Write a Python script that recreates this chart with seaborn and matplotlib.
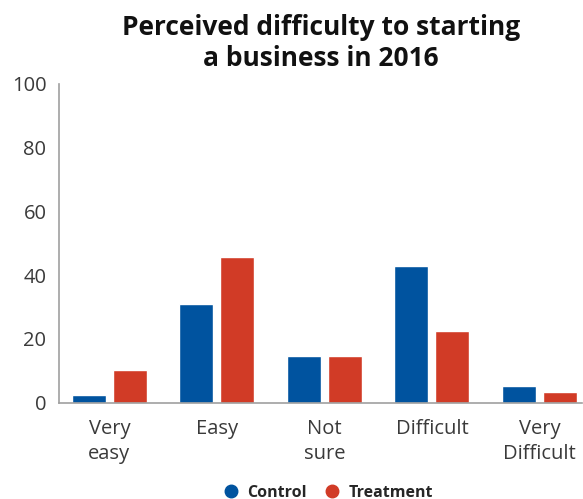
import matplotlib
matplotlib.use("Agg")
import matplotlib.pyplot as plt
import seaborn as sns
import pandas as pd
from matplotlib.lines import Line2D

categories = ["Very\neasy", "Easy", "Not\nsure", "Difficult", "Very\nDifficult"]
groups = ["Control", "Treatment"]
control = [2.4, 31.1, 14.7, 42.8, 5.3]
treatment = [10.3, 45.6, 14.7, 22.6, 3.4]
colors = {"Control": "#00539F", "Treatment": "#D13B26"}

df = pd.DataFrame({
    "category": categories * 2,
    "group": ["Control"] * len(categories) + ["Treatment"] * len(categories),
    "value": control + treatment,
})

sns.set_style("white")
plt.rcParams['font.family'] = ['Open Sans', 'DejaVu Sans']

fig = plt.figure(figsize=(5.83, 4.99), dpi=100)
ax = fig.add_axes([0.101, 0.193, 0.897, 0.639])

sns.barplot(data=df, x="category", y="value", hue="group", order=categories,
            hue_order=groups, palette=colors, width=0.763, gap=0.17,
            saturation=1, ax=ax, legend=False)

ax.set_ylim(0, 100)
ax.set_xlim(-0.47, 4.395)
ax.set_yticks([0, 20, 40, 60, 80, 100])
ax.set_xlabel("")
ax.set_ylabel("")
for s in ["top", "right"]:
    ax.spines[s].set_visible(False)
for s in ["left", "bottom"]:
    ax.spines[s].set_color("#a0a0a0")
    ax.spines[s].set_linewidth(1.2)
ax.tick_params(axis="y", length=0, labelsize=14.5, labelcolor="#3a3a3a", pad=9)
ax.tick_params(axis="x", length=0, labelsize=14.5, labelcolor="#3a3a3a", pad=12)
for t in ax.get_xticklabels():
    t.set_linespacing(1.3)

fig.text(0.551, 0.914, "Perceived difficulty to starting\na business in 2016",
         ha="center", va="center", fontsize=19, fontweight="bold",
         color="#111111", linespacing=1.2)

handles = [Line2D([0], [0], marker="o", linestyle="", markersize=9,
                  markerfacecolor=colors[g], markeredgecolor=colors[g]) for g in groups]
fig.legend(handles, groups, loc="center", bbox_to_anchor=(0.556, 0.013), ncol=2,
           frameon=False, handletextpad=0.0, columnspacing=0.6,
           prop={"weight": "bold", "size": 11.5})

fig.savefig("out.png", dpi=100)
